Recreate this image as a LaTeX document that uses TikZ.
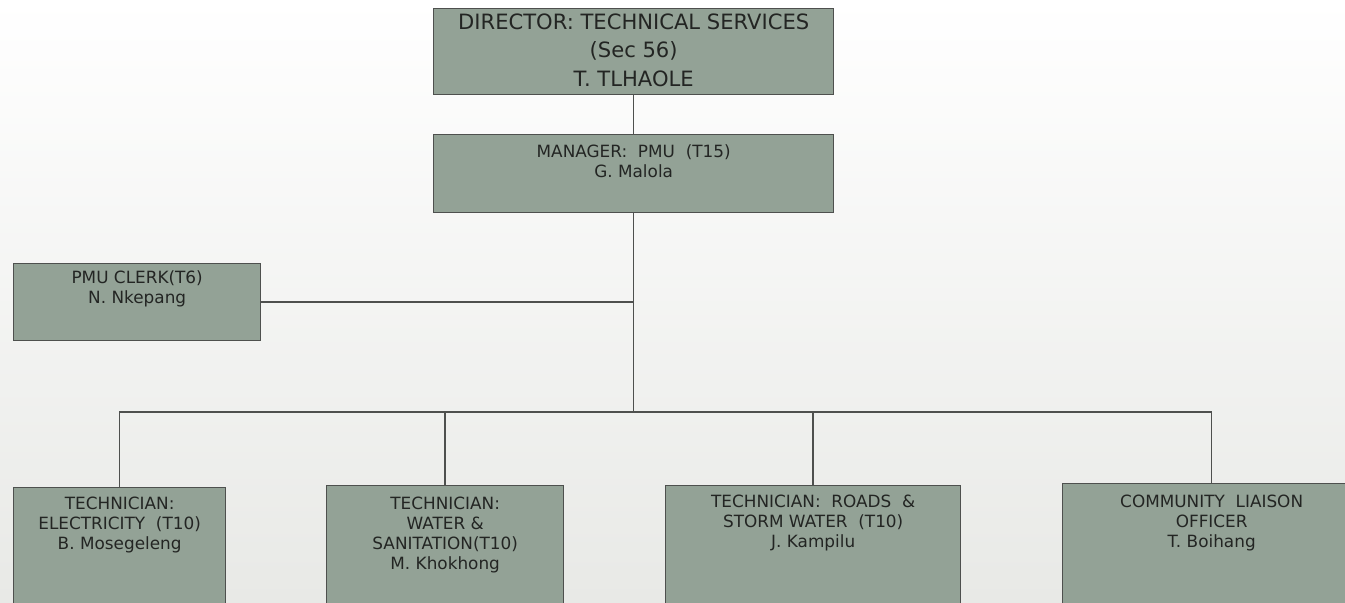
\documentclass[tikz,border=0pt]{standalone}
\usepackage{fontspec}
\setmainfont{DejaVu Sans}
\usetikzlibrary{positioning}
\definecolor{boxfill}{RGB}{147,162,150}
\definecolor{boxline}{RGB}{78,80,78}
\definecolor{txtcol}{RGB}{35,37,35}
\definecolor{bgbottom}{RGB}{232,233,230}
\begin{document}
\begin{tikzpicture}[x=0.02cm,y=-0.02cm,
	post/.style={draw=boxline,line width=0.8pt,fill=boxfill,anchor=north west,inner sep=0pt},
	posttext/.style={align=center,text=txtcol,inner sep=0pt,font=\fontsize{9.6}{11.4}\selectfont},
	link/.style={draw=boxline,line width=0.8pt}]
\useasboundingbox (0,0) rectangle (1345,602);
\clip (0,0) rectangle (1345,602);
\shade[top color=white,bottom color=bgbottom] (0,0) rectangle (1345,602);

\node[post,minimum width=8cm,minimum height=1.72cm] (dir) at (433,8) {};
\node[post,minimum width=8cm,minimum height=1.56cm] (mgr) at (433,134) {};
\node[post,minimum width=4.94cm,minimum height=1.54cm] (clerk) at (13,263) {};
\node[post,minimum width=4.24cm,minimum height=3.2cm] (elec) at (13,487) {};
\node[post,minimum width=4.74cm,minimum height=3.2cm] (water) at (326,485) {};
\node[post,minimum width=5.9cm,minimum height=3.2cm] (roads) at (665,485) {};
\node[post,minimum width=5.96cm,minimum height=3.2cm] (comm) at (1062,483) {};

\node[posttext,font=\fontsize{12}{16.4}\selectfont,below=0.1cm of dir.north] (dirtext) {DIRECTOR: TECHNICAL SERVICES\\(Sec 56)\\T. TLHAOLE};
\node[posttext,below=0.21cm of mgr.north] (mgrtext) {MANAGER:~ PMU~ (T15)\\G. Malola};
\node[posttext,below=0.15cm of clerk.north] (clerktext) {PMU CLERK(T6)\\N. Nkepang};
\node[posttext,below=0.19cm of elec.north] (electext) {TECHNICIAN:\\ELECTRICITY~ (T10)\\B. Mosegeleng};
\node[posttext,below=0.23cm of water.north] (watertext) {TECHNICIAN:\\WATER \&\\SANITATION(T10)\\M. Khokhong};
\node[posttext,below=0.19cm of roads.north] (roadstext) {TECHNICIAN:~ ROADS~ \&\\STORM WATER~ (T10)\\J. Kampilu};
\node[posttext,below=0.23cm of comm.north] (commtext) {COMMUNITY~ LIAISON\\OFFICER\\T. Boihang};

\coordinate (bus) at (mgr.south |- 0,412);
\draw[link] (dir.south) -- (mgr.north);
\draw[link] (mgr.south) -- (bus);
\draw[link] (clerk.east) -- (clerk.east -| mgr.south);
\draw[link] (elec.north) -- (elec.north |- bus) -- (comm.north |- bus) -- (comm.north);
\draw[link] (water.north) -- (water.north |- bus);
\draw[link] (roads.north) -- (roads.north |- bus);
\end{tikzpicture}
\end{document}
